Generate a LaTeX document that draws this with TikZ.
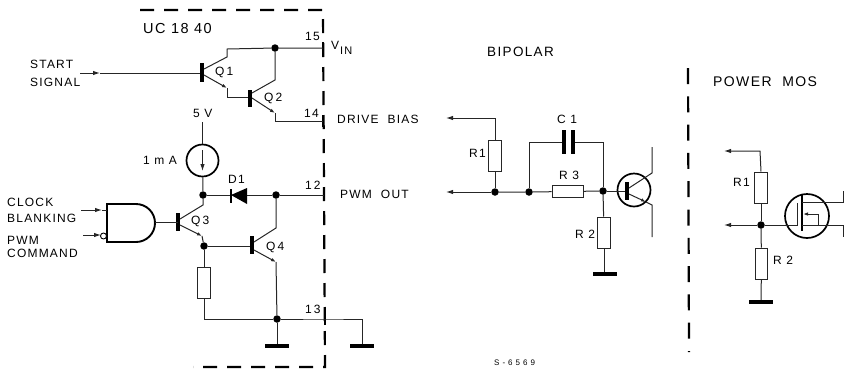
\documentclass[tikz,border=0pt]{standalone}
\usepackage{fontspec}
\setmainfont[LetterSpace=10]{Liberation Sans}
\usetikzlibrary{arrows.meta}
\tikzset{
  wire/.style={line width=1pt,black!85,line join=miter},
  arr/.style={wire,-{Latex[length=7pt,width=4.5pt]}},
  emit/.style={wire,-{Latex[length=5pt,width=3.5pt]}},
  bar/.style={line width=3.6pt},
  gnd/.style={line width=4.2pt},
  res/.style={draw,line width=1pt,black!85,fill=white,minimum width=12.5pt,minimum height=31pt,inner sep=0pt},
  resh/.style={draw,line width=1pt,black!85,fill=white,minimum width=31pt,minimum height=12.5pt,inner sep=0pt},
  dotn/.style={circle,fill=black,inner sep=0pt,minimum size=7.5pt},
  ring/.style={draw,circle,line width=1.7pt,inner sep=0pt},
  txt/.style={inner sep=0pt,anchor=west,text height=8.6pt,text depth=0pt,font=\fontsize{12}{12}\selectfont},
  frame/.style={line width=2.2pt,dash pattern=on 14pt off 10pt},
  tick/.style={line width=1.4pt},
}
\begin{document}
\begin{tikzpicture}[x=1pt,y=-1pt]
\useasboundingbox (0,0) rectangle (846,368);
% frames
\draw[frame] (140,10) -- (323,10) -- (325,367) -- (193,367);
\draw[frame,dash pattern=on 16pt off 12.3pt] (688,68) -- (689,352);
% texts
\node[txt,font=\fontsize{14.5}{14.5}\selectfont] (uc) at (143,29) {UC 18 40};
\node[txt] (t1) at (30,64) {START};
\node[txt] (t2) at (30,82) {SIGNAL};
\node[txt] (t3) at (7,202) {CLOCK};
\node[txt] (t4) at (7,218) {BLANKING};
\node[txt] (t5) at (7,240) {PWM};
\node[txt] (t6) at (7,253) {COMMAND};
\node[txt] (q1l) at (215,71) {Q\,1};
\node[txt] (q2l) at (264,97) {Q\,2};
\node[txt] (q3l) at (191,220) {Q\,3};
\node[txt] (q4l) at (266,246) {Q\,4};
\node[txt] (p15) at (305,36) {15};
\node[txt] (p14) at (304,113) {14};
\node[txt] (p12) at (305,185) {1\,2};
\node[txt] (p13) at (305,309) {1\,3};
\node[txt] (vin) at (331,45) {V};
\node[txt,font=\fontsize{11}{11}\selectfont] (in) at (340,50) {IN};
\node[txt] (drv) at (337,119) {DRIVE\ \ BIAS};
\node[txt] (pwm) at (340,194) {PWM\ \ OUT};
\node[txt] (v5) at (193,113) {5 V};
\node[txt] (ma) at (143,160) {1 m A};
\node[txt] (d1l) at (228,179) {D1};
\node[txt,font=\fontsize{13.5}{13.5}\selectfont] (bip) at (487,52) {BIPOLAR};
\node[txt,font=\fontsize{14}{14}\selectfont] (pm) at (713,82) {POWER\ \ MOS};
\node[txt] (c1l) at (557,119) {C 1};
\node[txt] (r1l) at (469,153) {R1};
\node[txt] (r3l) at (559,175) {R 3};
\node[txt] (r2l) at (575,234) {R 2};
\node[txt] (r1m) at (733,182) {R1};
\node[txt] (r2m) at (773,260) {R 2};
\node[txt,text height=5.6pt,font=\fontsize{8}{8}\selectfont] (sn) at (494,362.5) {S - 6 5 6 9};
% ===== UC1840 junctions
\node[dotn] (j1) at (275,48) {};
\node[dotn] (j2) at (203,195) {};
\node[dotn] (j3) at (276,195) {};
\node[dotn] (j4) at (204,246) {};
\node[dotn] (j5) at (277,319) {};
\coordinate (pin15) at (323,48);
\coordinate (pin14) at (323,121);
\coordinate (pin12) at (324,195);
\coordinate (pin13) at (325,319);
\foreach \p in {pin15,pin14,pin12,pin13}
  \draw[tick] ([yshift=-6pt]\p) -- ([yshift=6pt]\p);
% Q1
\coordinate (sa) at (80,73); \coordinate (sb) at (100,73); \coordinate (q1b) at (202,73);
\draw[arr] (sa) -- (sb);
\draw[wire] (sb) -- (q1b);
\draw[bar] (202,63) -- (202,82);
\coordinate (q1c) at (227,49);
\draw[wire] (204,69) -- (227,57) -- (q1c) -- (j1) -- (pin15);
\coordinate (q1e) at (227,88);
\draw[emit] (204,75) -- (q1e);
\draw[wire] (q1e) -- (227,97) -- (250,97);
% Q2
\draw[bar] (250,90) -- (250,107);
\draw[wire] (j1) -- (275,80) -- (252,93);
\coordinate (q2e) at (275,113);
\draw[emit] (252,98) -- (q2e);
\draw[wire] (q2e) -- (275,121) -- (pin14);
% current source
\node[ring,minimum size=32pt] (src) at (202.5,160.5) {};
\coordinate (v5a) at (202.5,122);
\draw[wire] (v5a) -- (src);
\draw[arr] (202.5,150) -- (202.5,171);
\draw[wire] (src) -- (j2);
% D1
\coordinate (dk) at (231,195);
\coordinate (da) at (247,195);
\draw[wire] (j2) -- (dk);
\draw[wire] (da) -- (j3);
\draw[wire] (j3) -- (pin12);
\fill (dk) -- (247,188) -- (247,204) -- cycle;
\draw[line width=2pt] (231,189) -- (231,203);
% Q3
\draw[bar] (178,213) -- (178,231);
\draw[wire] (j2) -- (203,205) -- (180,219);
\coordinate (q3e) at (202,236);
\draw[emit] (180,225) -- (q3e);
\draw[wire] (q3e) -- (j4);
% Q4
\draw[wire] (j4) -- (252,246);
\draw[bar] (252,236) -- (252,254);
\draw[wire] (j3) -- (276,228) -- (254,242);
\coordinate (q4e) at (276,262);
\draw[emit] (254,250) -- (q4e);
\draw[wire] (q4e) -- (j5);
% R pull-down
\node[res] (rq) at (204,282.5) {};
\draw[wire] (j4) -- (rq);
\draw[wire] (rq) -- (204,319) -- (j5);
% ground
\coordinate (g1) at (277,346);
\coordinate (g2) at (362,346);
\draw[wire] (j5) -- (g1);
\draw[wire] (j5) -- (pin13) -- (362,319) -- (g2);
\draw[gnd] (265,346) -- (289,346);
\draw[gnd] (350,346) -- (374,346);
% NAND
\draw[line width=1.9pt] (107,204) -- (136,204) arc[start angle=90,end angle=-90,radius=19pt] -- (107,242) -- cycle;
\coordinate (gout) at (155,222);
\draw[wire] (gout) -- (178,222);
\coordinate (ga) at (81,210); \coordinate (gb) at (102,210);
\draw[arr] (ga) -- (gb); \draw[wire] (gb) -- (107,210);
\coordinate (gc) at (83,235); \coordinate (gd) at (101,235);
\draw[arr] (gc) -- (gd);
\node[draw,circle,line width=0.9pt,fill=white,inner sep=0pt,minimum size=6pt] (bub) at (103.5,236) {};
% ===== Bipolar
\node[res] (br1) at (495,156) {};
\node[resh] (br3) at (567.5,191.5) {};
\node[res] (br2) at (604,232.5) {};
\node[dotn] (b1) at (495,192) {};
\node[dotn] (b2) at (529,192) {};
\node[dotn] (b3) at (603,191) {};
\coordinate (ba1) at (446,118);
\coordinate (ba2) at (446,192);
\draw[arr] (br1.north) -- (495,118) -- (ba1);
\draw[wire] (br1) -- (b1);
\draw[arr] (b1) -- (ba2);
\draw[wire] (b1) -- (b2) -- (br3) -- (b3);
\coordinate (cl) at (564,142); \coordinate (cr) at (573,142);
\draw[wire] (b2) -- (529,142) -- (cl);
\draw[wire] (cr) -- (603,142) -- (b3);
\draw[bar] (564,130) -- (564,154);
\draw[bar] (573,130) -- (573,154);
\draw[wire] (b3) -- (br2);
\coordinate (bg) at (604,274);
\draw[wire] (br2) -- (bg);
\draw[gnd] (593,274) -- (617,274);
\node[ring,minimum size=33pt] (bt) at (634,190) {};
\draw[wire] (b3) -- (627,191);
\draw[bar] (627,182) -- (627,200);
\draw[wire] (629,188) -- (652,173) -- (652,147);
\coordinate (bte) at (646,202);
\draw[emit] (629,194) -- (bte);
\draw[wire] (bte) -- (652,205) -- (652,237);
% ===== Power MOS
\node[res] (mr1) at (761,187.5) {};
\node[res] (mr2) at (761.5,263.5) {};
\node[dotn] (m1) at (761,225) {};
\coordinate (ma1) at (724,151);
\coordinate (ma2) at (724,225);
\draw[arr] (mr1.north) -- (760,151) -- (ma1);
\draw[wire] (mr1) -- (m1);
\draw[arr] (m1) -- (ma2);
\draw[wire] (m1) -- (mr2);
\coordinate (mg) at (761,302);
\draw[wire] (mr2) -- (mg);
\draw[gnd] (749,302) -- (773,302);
\node[ring,minimum size=44pt] (mt) at (807,216) {};
\draw[wire] (m1) -- (797,225) -- (797,203);
\draw[line width=1.4pt] (802,195) -- (802,231);
\draw[wire] (802,202) -- (843,202) -- (843,191);
\draw[wire] (802,225) -- (843,225) -- (843,237);
\draw[emit] (818,225) -- (818,214) -- (803,214);
\end{tikzpicture}
\end{document}
